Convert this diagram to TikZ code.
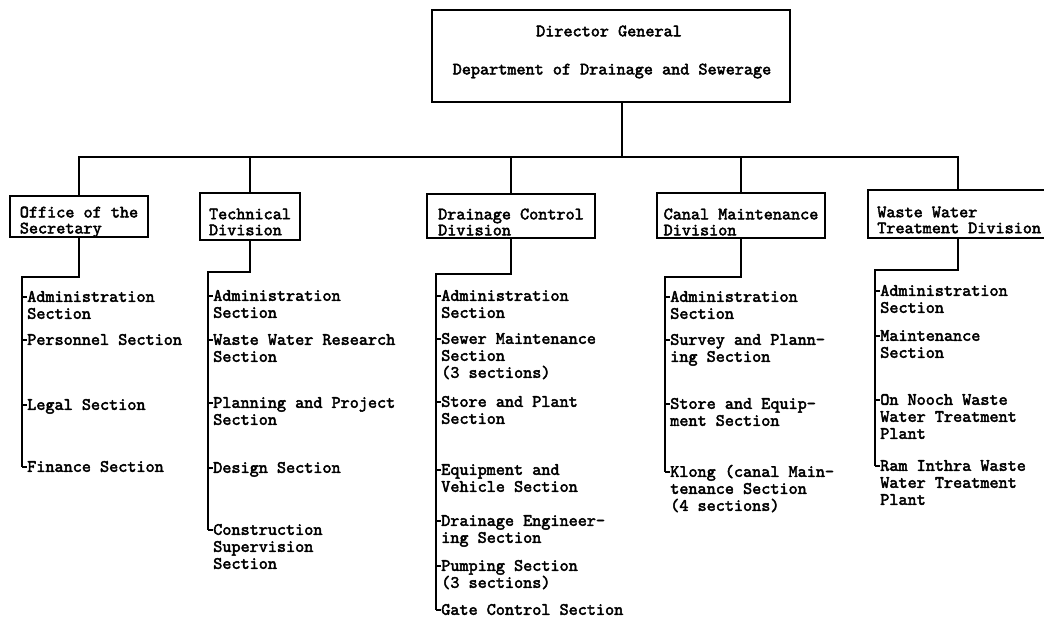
\documentclass[tikz,border=0pt]{standalone}
\usepackage{fontspec}
\newfontfamily\tw[FakeBold=2.6]{lmmono10-regular.otf}
\newcommand\orgsect[4]{%
  \coordinate (#1) at (#2,#3);
  \node[item] (#1n) at ([xshift=3.75pt,yshift=5.6pt]#1) {\rule{0pt}{9pt}#4};
  \draw[link] (#1) -- (#1n.west |- #1);
}
\begin{document}
\begin{tikzpicture}[x=0.75pt,y=-0.75pt,
  every node/.style={font=\tw\fontsize{13}{12.75}\selectfont},
  box/.style={draw, line width=1.2pt, inner sep=0pt},
  btext/.style={align=left, inner sep=0pt, font=\tw\fontsize{13}{12}\selectfont},
  item/.style={anchor=north west, inner sep=0pt, align=left},
  link/.style={line width=1.3pt}]
\useasboundingbox (0,0) rectangle (1044,621);

% top box
\node[box, minimum width=268.5pt, minimum height=69pt] (dg) at (611,56) {};
\node[btext] (dg1) at (609,31) {Director General};
\node[btext] (dg2) at (612,71) {Department of Drainage and Sewerage};

% divisions
\node[box, minimum width=103.5pt, minimum height=30.75pt] (ob) at (79,216.5) {};
\node[btext] (obt) at (79,222) {Office of the\\Secretary};
\node[box, minimum width=75pt, minimum height=35.25pt] (tb) at (250,216.5) {};
\node[btext] (tbt) at (250,222) {Technical\\Division};
\node[box, minimum width=126pt, minimum height=33pt] (db) at (511,216) {};
\node[btext] (dbt) at (511,222) {Drainage Control\\Division};
\node[box, minimum width=126pt, minimum height=33.75pt] (cb) at (741,215.5) {};
\node[btext] (cbt) at (741,222) {Canal Maintenance\\Division};
\node[box, minimum width=144pt, minimum height=36pt] (wb) at (964,214) {};
\node[btext, anchor=west] (wbt) at (877,220) {Waste Water\\Treatment Division};

% bus
\coordinate (bus) at (622,157);
\coordinate (wx) at (958,0);
\draw[link] (dg.south -| bus) -- (bus);
\draw[link] (ob.north) |- (bus) -| (wb.north -| wx);
\draw[link] (tb.north) -- (tb.north |- bus);
\draw[link] (db.north) -- (db.north |- bus);
\draw[link] (cb.north) -- (cb.north |- bus);

% Office of the Secretary
\coordinate (os) at (22,277);
\orgsect{o1}{22}{297}{Administration\\Section}
\orgsect{o2}{22}{340}{Personnel Section}
\orgsect{o3}{22}{405}{Legal Section}
\orgsect{o4}{22}{467}{Finance Section}
\draw[link] (ob.south) |- (os) -- (o4);

% Technical Division
\coordinate (ts) at (208,272);
\orgsect{t1}{208}{296}{Administration\\Section}
\orgsect{t2}{208}{340}{Waste Water Research\\Section}
\orgsect{t3}{208}{403}{Planning and Project\\Section}
\orgsect{t4}{208}{468}{Design Section}
\orgsect{t5}{208}{530}{Construction\\Supervision\\Section}
\draw[link] (tb.south) |- (ts) -- (t5);

% Drainage Control Division
\coordinate (ds) at (436,274);
\orgsect{d1}{436}{296}{Administration\\Section}
\orgsect{d2}{436}{339}{Sewer Maintenance\\Section\\(3 sections)}
\orgsect{d3}{436}{402}{Store and Plant\\Section}
\orgsect{d4}{436}{470}{Equipment and\\Vehicle Section}
\orgsect{d5}{436}{521}{Drainage Engineer-\\ing Section}
\orgsect{d6}{436}{566}{Pumping Section\\(3 sections)}
\orgsect{d7}{436}{610}{Gate Control Section}
\draw[link] (db.south) |- (ds) -- (d7);

% Canal Maintenance Division
\coordinate (cs) at (665,277);
\orgsect{c1}{665}{297}{Administration\\Section}
\orgsect{c2}{665}{340}{Survey and Plann-\\ing Section}
\orgsect{c3}{665}{404}{Store and Equip-\\ment Section}
\orgsect{c4}{665}{472}{Klong (canal Main-\\tenance Section\\(4 sections)}
\draw[link] (cb.south) |- (cs) -- (c4);

% Waste Water Treatment Division
\coordinate (ws) at (875,270);
\orgsect{w1}{875}{291}{Administration\\Section}
\orgsect{w2}{875}{336}{Maintenance\\Section}
\orgsect{w3}{875}{400}{On Nooch Waste\\Water Treatment\\Plant}
\orgsect{w4}{875}{466}{Ram Inthra Waste\\Water Treatment\\Plant}
\draw[link] (wb.south -| wx) |- (ws) -- (w4);
\end{tikzpicture}
\end{document}
